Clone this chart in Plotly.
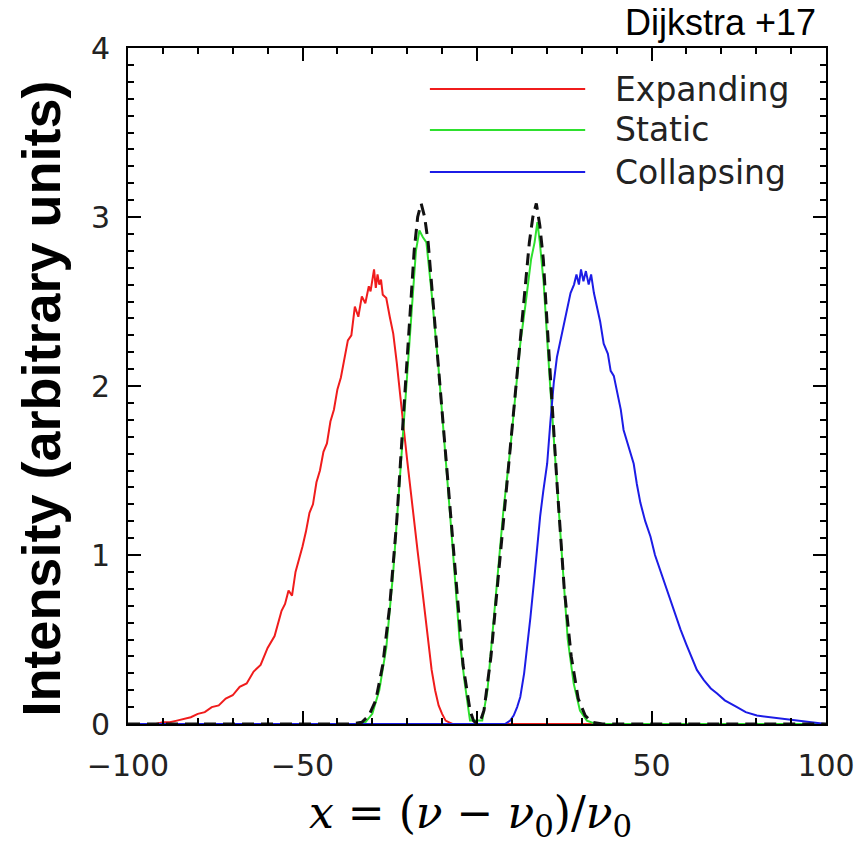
import plotly.graph_objects as go

# ---------------- data ----------------
exp_x = [-100, -92, -90, -88, -86, -84, -82, -80, -78, -76, -74, -72, -70, -68, -66, -64, -62,
         -60, -58, -56, -55, -54, -53, -52, -51, -50, -49, -48, -47, -46, -45, -44, -43, -42,
         -41, -40, -39, -38, -37, -36, -35, -34, -33, -32, -31, -30.5, -30, -29.5, -29, -28.5,
         -28, -27.5, -27, -26, -25, -24, -23, -22, -21, -20, -19, -18, -17, -16, -15, -14, -13,
         -12, -11, -10, -9, -8, -7, 100]
exp_y = [0, 0, 0.01, 0.01, 0.02, 0.03, 0.04, 0.06, 0.07, 0.1, 0.11, 0.15, 0.17, 0.22, 0.24, 0.31,
         0.35, 0.45, 0.52, 0.67, 0.71, 0.79, 0.76, 0.9, 0.97, 1.05, 1.14, 1.25, 1.3, 1.43, 1.5,
         1.61, 1.66, 1.79, 1.86, 1.98, 2.05, 2.17, 2.27, 2.3, 2.47, 2.41, 2.53, 2.49, 2.59, 2.56,
         2.63, 2.69, 2.58, 2.66, 2.6, 2.63, 2.54, 2.52, 2.41, 2.31, 2.14, 1.96, 1.75, 1.56, 1.37,
         1.2, 1.02, 0.85, 0.66, 0.48, 0.32, 0.2, 0.11, 0.06, 0.02, 0.01, 0, 0]

col_x = [-100, 8, 9.5, 10.5, 11.5, 12.4, 13.5, 14.5, 15.3, 16.5, 17.5, 18.1, 19, 20.1, 21, 22,
         22.9, 23.8, 24.8, 25.8, 26.8, 27.8, 28.5, 29.2, 29.8, 30.5, 31.2, 32, 32.7, 33.5, 34.4,
         35.3, 36.3, 37.5, 38.3, 39.2, 40.5, 41.2, 42, 43.5, 44.9, 45.8, 46.8, 48.2, 49.7, 51,
         52.5, 54, 55.4, 57, 58.3, 60, 61.5, 63, 65, 67, 68.8, 71, 74.5, 77, 80.2, 84, 87.9, 91,
         95, 100]
col_y = [0, 0, 0.02, 0.05, 0.1, 0.16, 0.3, 0.48, 0.63, 0.88, 1.1, 1.23, 1.38, 1.54, 1.78, 2.02,
         2.17, 2.26, 2.35, 2.45, 2.55, 2.6, 2.66, 2.6, 2.69, 2.62, 2.68, 2.6, 2.66, 2.55, 2.47,
         2.38, 2.25, 2.19, 2.09, 2.06, 1.93, 1.86, 1.74, 1.64, 1.54, 1.42, 1.31, 1.2, 1.11, 1.0,
         0.91, 0.82, 0.73, 0.64, 0.56, 0.47, 0.39, 0.32, 0.26, 0.21, 0.18, 0.14, 0.1, 0.07, 0.05,
         0.04, 0.03, 0.02, 0.01, 0]

sta_x = [-100, -34, -32, -30, -28, -26, -24, -22, -20, -18.5, -17.5, -16.5, -15.5, -14.5, -13,
         -11, -9, -7, -5, -3.5, -2, 1.5, 3, 5.7, 7.5, 9.5, 12.4, 14, 15.5, 16.5, 17.3, 18, 19.1,
         20.9, 22.9, 24.8, 26, 27.7, 29.5, 31.5, 34, 100]
sta_y = [0, 0, 0.01, 0.06, 0.2, 0.45, 0.9, 1.5, 2.1, 2.55, 2.8, 2.92, 2.88, 2.85, 2.55, 2.1, 1.6,
         1.05, 0.5, 0.24, 0.02, 0.02, 0.2, 0.83, 1.25, 1.62, 2.25, 2.5, 2.75, 2.85, 2.97, 2.85,
         2.61, 2.02, 1.43, 0.83, 0.5, 0.24, 0.08, 0.02, 0, 0]

ana_x = [-100, -36, -33, -31, -29, -27, -25, -23, -21, -19, -18, -17, -16, -15, -14, -12, -10,
         -8, -6, -4, -2, -1, 0, 1, 2, 4, 6, 8, 10, 12, 14, 15, 16, 17, 18, 19, 20, 21, 23, 25,
         27, 29, 31, 33, 36, 100]
ana_y = [0, 0, 0.01, 0.05, 0.14, 0.35, 0.7, 1.2, 1.85, 2.5, 2.8, 3.0, 3.08, 3.0, 2.85, 2.35,
         1.85, 1.35, 0.8, 0.35, 0.08, 0.02, 0, 0.02, 0.08, 0.4, 0.85, 1.3, 1.75, 2.2, 2.65, 2.85,
         3.0, 3.08, 2.95, 2.75, 2.4, 2.05, 1.4, 0.8, 0.4, 0.15, 0.05, 0.01, 0, 0]

legend_names = ["Expanding", "Static", "Collapsing"]
colors = {"Expanding": "#f01c1c", "Static": "#2ee02e", "Collapsing": "#1c1ce6"}

x_ticks = [-100, -50, 0, 50, 100]
y_ticks = [0, 1, 2, 3, 4]

# ---------------- figure ----------------
fig = go.Figure()
fig.add_trace(go.Scatter(x=exp_x, y=exp_y, mode="lines", name="Expanding",
                         line=dict(color=colors["Expanding"], width=2)))
fig.add_trace(go.Scatter(x=sta_x, y=sta_y, mode="lines", name="Static",
                         line=dict(color=colors["Static"], width=2)))
fig.add_trace(go.Scatter(x=col_x, y=col_y, mode="lines", name="Collapsing",
                         line=dict(color=colors["Collapsing"], width=2)))
fig.add_trace(go.Scatter(x=ana_x, y=ana_y, mode="lines", name="Analytic",
                         line=dict(color="#111111", width=3, dash="12px,7px")))

tickfont = dict(family="DejaVu Sans", size=30, color="#222222")
axis_common = dict(showline=True, linecolor="black", linewidth=2, mirror="allticks",
                   ticks="inside", tickwidth=2, tickcolor="black", ticklen=13,
                   showgrid=False, zeroline=False, tickfont=tickfont)

fig.update_xaxes(range=[-100, 100], tickvals=x_ticks, ticklabelstandoff=14,
                 minor=dict(dtick=10, ticklen=6, ticks="inside", tickwidth=2, tickcolor="black",
                            showgrid=False),
                 **axis_common)
fig.update_yaxes(range=[0, 4], tickvals=y_ticks, ticklabelstandoff=10,
                 minor=dict(dtick=0.1, ticklen=6, ticks="inside", tickwidth=2, tickcolor="black",
                            showgrid=False),
                 **axis_common)

# legend drawn inside the plot (long line samples)
leg_y = [3.757, 3.515, 3.266]
for name, yy in zip(legend_names, leg_y):
    fig.add_shape(type="line", xref="x", yref="y", x0=-13.5, x1=31, y0=yy, y1=yy,
                  line=dict(color=colors[name], width=2))
    fig.add_annotation(xref="x", yref="y", x=39, y=yy, text=name, showarrow=False,
                       xanchor="left", yanchor="middle",
                       font=dict(family="DejaVu Sans", size=33, color="#222222"))

fig.add_annotation(xref="paper", yref="paper", x=-0.124, y=0.482,
                   text="<b>Intensity (arbitrary units)</b>",
                   textangle=-90, showarrow=False, xanchor="center", yanchor="middle",
                   font=dict(family="Liberation Sans", size=54, color="black"))
fig.add_annotation(xref="paper", yref="paper", x=0.49, y=-0.135,
                   text="<i>x</i> = (<i>ν</i> − <i>ν</i><sub>0</sub>)/<i>ν</i><sub>0</sub>",
                   showarrow=False, xanchor="center", yanchor="middle",
                   font=dict(family="DejaVu Serif", size=44, color="black"))
fig.add_annotation(xref="paper", yref="paper", x=0.9885, y=1.037, text="Dijkstra +17",
                   showarrow=False, xanchor="right", yanchor="middle",
                   font=dict(family="Liberation Sans", size=36, color="black"))

# page body adds an 8px offset, so margins are shifted to land the frame where the reference has it
fig.update_layout(width=863, height=844, showlegend=False,
                  margin=dict(l=120, r=45, t=40, b=128),
                  paper_bgcolor="white", plot_bgcolor="white")

fig.write_html("out.html")
